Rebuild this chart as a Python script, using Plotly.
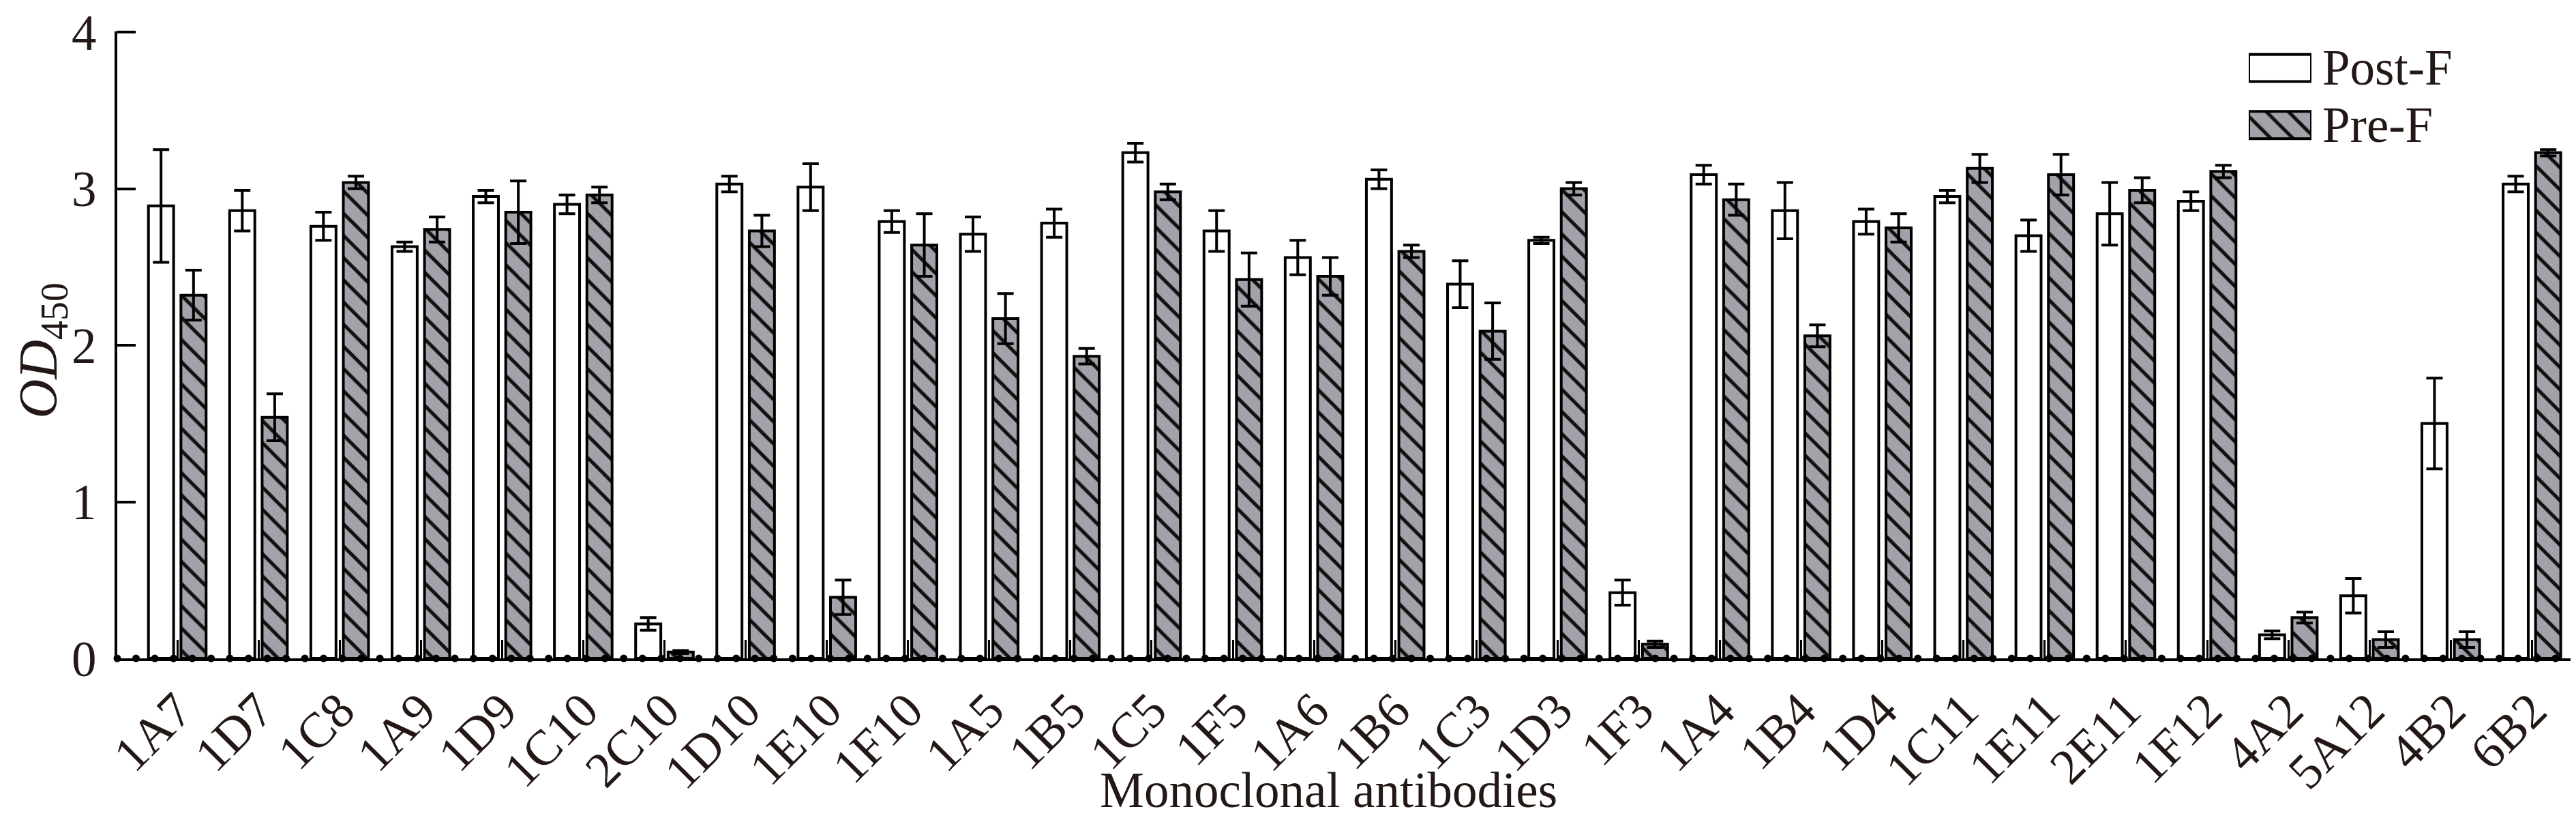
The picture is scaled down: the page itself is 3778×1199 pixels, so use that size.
import numpy as np
import plotly.graph_objects as go

# monoclonal antibodies on the x axis
antibodies = ["1A7", "1D7", "1C8", "1A9", "1D9", "1C10", "2C10", "1D10", "1E10", "1F10",
              "1A5", "1B5", "1C5", "1F5", "1A6", "1B6", "1C3", "1D3", "1F3", "1A4",
              "1B4", "1D4", "1C11", "1E11", "2E11", "1F12", "4A2", "5A12", "4B2", "6B2"]

post_f = [2.89, 2.86, 2.76, 2.63, 2.95, 2.90, 0.22, 3.03, 3.01, 2.79,
          2.71, 2.78, 3.23, 2.73, 2.56, 3.06, 2.39, 2.67, 0.42, 3.09,
          2.86, 2.79, 2.95, 2.70, 2.84, 2.92, 0.15, 0.40, 1.50, 3.03]
post_f_sd = [0.36, 0.13, 0.09, 0.03, 0.04, 0.06, 0.04, 0.05, 0.15, 0.07,
             0.11, 0.09, 0.06, 0.13, 0.11, 0.06, 0.15, 0.02, 0.08, 0.06,
             0.18, 0.08, 0.04, 0.10, 0.20, 0.06, 0.025, 0.11, 0.29, 0.05]

pre_f = [2.32, 1.54, 3.04, 2.74, 2.85, 2.96, 0.04, 2.73, 0.39, 2.64,
         2.17, 1.93, 2.98, 2.42, 2.44, 2.60, 2.09, 3.00, 0.09, 2.93,
         2.06, 2.75, 3.13, 3.09, 2.99, 3.11, 0.26, 0.12, 0.12, 3.23]
pre_f_sd = [0.16, 0.15, 0.04, 0.08, 0.20, 0.05, 0.01, 0.10, 0.11, 0.20,
            0.16, 0.05, 0.05, 0.17, 0.12, 0.04, 0.18, 0.04, 0.02, 0.10,
            0.07, 0.09, 0.09, 0.13, 0.08, 0.04, 0.035, 0.05, 0.05, 0.02]

y_ticks = [0, 1, 2, 3, 4]

FONT = "Liberation Serif"
INK = "#231815"
GREY = "#a2a2aa"

W, H = 3778, 1199
ML, MR, MT, MB = 164, 0, 33, 242
x_range = [-0.739, 29.61]
y_range = [0, 4.005]

pos = list(range(len(antibodies)))
hatch = dict(shape="\\", size=23, solidity=0.22, fgcolor="#111111", bgcolor=GREY, fillmode="replace")

fig = go.Figure()

fig.add_trace(go.Bar(
    x=pos, y=post_f, name="Post-F", offset=-0.355, width=0.31,
    marker=dict(color="white", line=dict(color="black", width=4)),
    error_y=dict(type="data", array=post_f_sd, color="black", thickness=4, width=12),
    showlegend=False,
))
fig.add_trace(go.Bar(
    x=pos, y=pre_f, name="Pre-F", offset=0.045, width=0.31,
    marker=dict(color=GREY, pattern=hatch, line=dict(color="black", width=4)),
    error_y=dict(type="data", array=pre_f_sd, color="black", thickness=4, width=12),
    showlegend=False,
))

# the dotted look of the baseline in the original figure
dots = np.arange(x_range[0], x_range[1] - 0.05, 0.231)
fig.add_trace(go.Scatter(
    x=dots, y=np.zeros(len(dots)), mode="markers",
    marker=dict(color="black", size=11), cliponaxis=False,
    hoverinfo="skip", showlegend=False,
))

# legend swatches on a small inset axis
fig.add_trace(go.Bar(
    y=[1], x=[1], orientation="h", width=0.476, xaxis="x2", yaxis="y2",
    marker=dict(color="white", line=dict(color="black", width=4)),
    hoverinfo="skip", showlegend=False,
))
fig.add_trace(go.Bar(
    y=[0], x=[1], orientation="h", width=0.476, xaxis="x2", yaxis="y2",
    marker=dict(color=GREY, pattern=hatch, line=dict(color="black", width=4)),
    hoverinfo="skip", showlegend=False,
))

pw = W - ML - MR
ph = H - MT - MB


def px_x(v):
    return (v - ML) / pw


def px_y(v):
    return (H - MB - v) / ph


fig.update_layout(
    width=W, height=H,
    margin=dict(l=ML, r=MR, t=MT, b=MB),
    paper_bgcolor="white", plot_bgcolor="white",
    barmode="overlay",
    font=dict(family=FONT, size=73, color=INK),
    xaxis=dict(
        range=x_range, tickmode="array", tickvals=pos, ticktext=antibodies,
        tickangle=-45, ticks="inside", ticklen=27, tickwidth=3, tickcolor="black",
        showline=True, linecolor="black", linewidth=4, showgrid=False, zeroline=False,
        tickfont=dict(family=FONT, size=73, color=INK), ticklabelstandoff=0,
        ticklabeloverflow="allow",
    ),
    yaxis=dict(
        range=y_range, tickmode="array", tickvals=y_ticks, ticktext=[str(t) for t in y_ticks],
        ticks="inside", ticklen=27, tickwidth=4,
        tickcolor="black", showline=True, linecolor="black", linewidth=4,
        showgrid=False, zeroline=False, ticklabelstandoff=12,
        tickfont=dict(family=FONT, size=73, color=INK), ticklabeloverflow="allow",
    ),
    xaxis2=dict(domain=[px_x(3290), px_x(3382)], range=[0, 1], visible=False, anchor="y2"),
    yaxis2=dict(domain=[px_y(200), px_y(60)], range=[-0.345, 1.321], visible=False, anchor="x2"),
    annotations=[
        dict(text="Monoclonal antibodies", xref="paper", yref="paper",
             x=px_x(1940), y=px_y(1152), xanchor="center", yanchor="middle",
             showarrow=False, font=dict(family=FONT, size=73, color=INK)),
        dict(text="<i>OD</i><sub>450</sub>", xref="paper", yref="paper",
             x=px_x(54), y=px_y(503), xanchor="center", yanchor="middle", textangle=-90,
             showarrow=False, font=dict(family=FONT, size=80, color=INK)),
        dict(text="Post-F", xref="paper", yref="paper", x=px_x(3396), y=px_y(87),
             xanchor="left", yanchor="middle", showarrow=False,
             font=dict(family=FONT, size=73, color=INK)),
        dict(text="Pre-F", xref="paper", yref="paper", x=px_x(3396), y=px_y(171),
             xanchor="left", yanchor="middle", showarrow=False,
             font=dict(family=FONT, size=73, color=INK)),
    ],
)

fig.write_html("out.html")
